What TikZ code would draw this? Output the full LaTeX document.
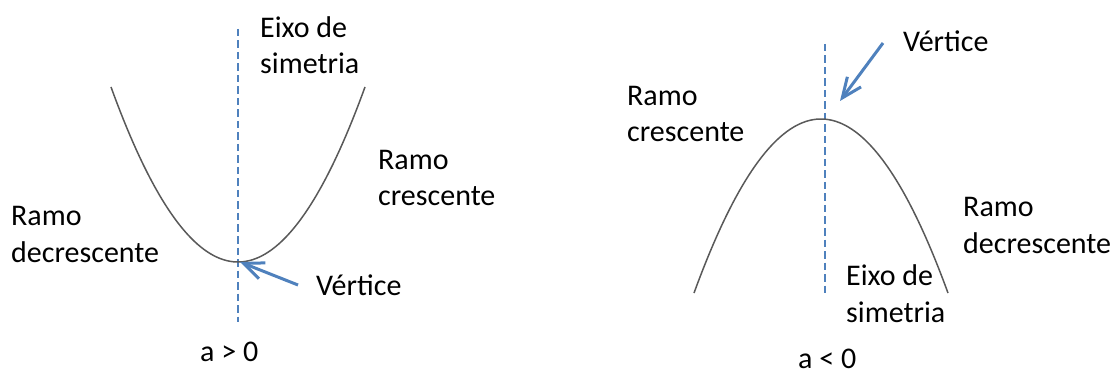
\documentclass[tikz,border=0pt]{standalone}
\usepackage{fontspec}
\setmainfont{Carlito}
\usetikzlibrary{arrows.meta}
\definecolor{axisblue}{RGB}{79,129,189}
\definecolor{curvegray}{RGB}{89,89,89}
\tikzset{
  % multi-line labels: the base anchor sits on the last line's baseline
  lbl/.style={font=\fontsize{30}{36.6}\selectfont, align=left, anchor=base west, inner sep=0pt},
  symaxis/.style={axisblue, line width=2.8pt, dash pattern=on 7.5pt off 4pt},
  branch/.style={curvegray, line width=1.5pt},
  pointer/.style={axisblue, line width=3pt, -{Straight Barb[length=20pt,width=17pt]}}
}
\begin{document}
\begin{tikzpicture}[x=1pt,y=-1pt]
\useasboundingbox (0,0) rectangle (1116,374);

% ---- a > 0: upward parabola ----
\coordinate (v1) at (238,262);
\coordinate (ax1top) at (238,29);
\coordinate (ax1bot) at (238,322);
\draw[symaxis] (ax1top) -- (ax1bot);
\draw[branch] plot[domain=-127:127,samples=80] ({238+\x},{262-1.085*(\x/10)*(\x/10)});

\node[lbl] (eixo1) at (260,74) {Eixo de\\simetria};
\node[lbl] (cresc1) at (378,206) {Ramo\\crescente};
\node[lbl] (decr1) at (11,262) {Ramo\\decrescente};
\node[lbl] (vert1) at (316,295) {Vértice};
\node[lbl] (sign1) at (200,361) {a > 0};

\coordinate (tail1) at (298,285);
\coordinate (tip1) at (240,262);
\draw[pointer] (tail1) -- (tip1);

% ---- a < 0: downward parabola ----
\coordinate (v2) at (821,119);
\coordinate (ax2top) at (825,44);
\coordinate (ax2bot) at (825,293);
\draw[symaxis] (ax2top) -- (ax2bot);
\draw[branch] plot[domain=-127:127,samples=80] ({821+\x},{119+1.079*(\x/10)*(\x/10)});

\node[lbl] (vert2) at (903,52) {Vértice};
\node[lbl] (cresc2) at (627,142) {Ramo\\crescente};
\node[lbl] (decr2) at (963,253) {Ramo\\decrescente};
\node[lbl] (eixo2) at (846,322) {Eixo de\\simetria};
\node[lbl, text depth=0pt] (sign2) at (798,368) {a < 0};

\coordinate (tail2) at (883,43);
\coordinate (tip2) at (840,101);
\draw[pointer] (tail2) -- (tip2);
\end{tikzpicture}
\end{document}
